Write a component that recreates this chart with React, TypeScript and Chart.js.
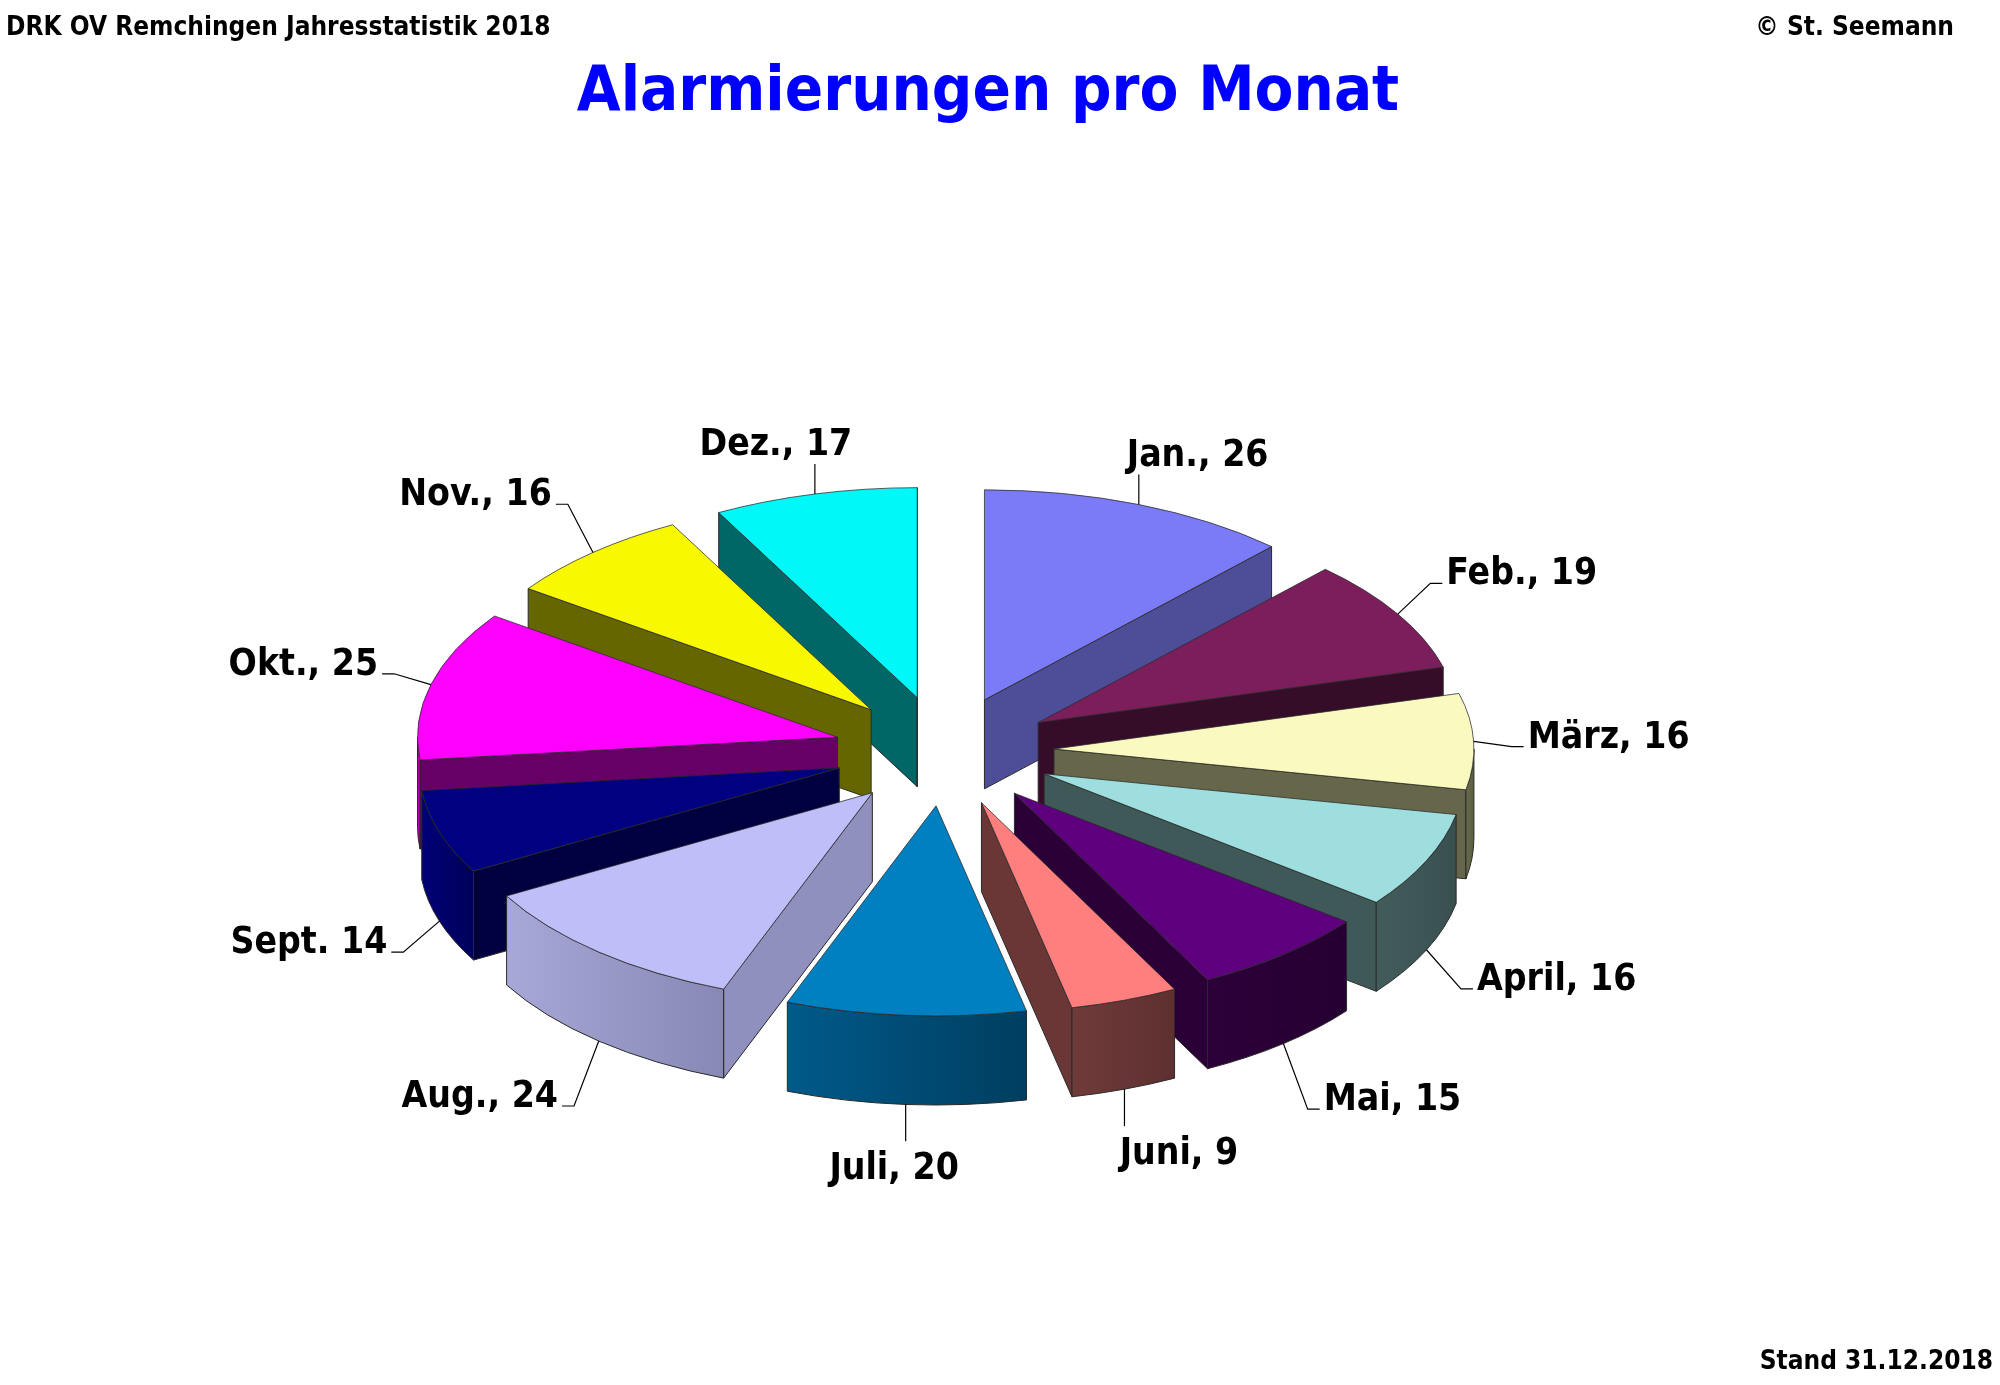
import { useEffect, useRef } from 'react'
import { Chart, registerables } from 'chart.js'

Chart.register(...registerables)

// Alarmierungen 2018, one slice per month
const months = ['Jan.', 'Feb.', 'März', 'April', 'Mai', 'Juni', 'Juli', 'Aug.', 'Sept.', 'Okt.', 'Nov.', 'Dez.']
const alarms = [26, 19, 16, 16, 15, 9, 20, 24, 14, 25, 16, 17]
const separators = [', ', ', ', ', ', ', ', ', ', ', ', ', ', ', ', ' ', ', ', ', ', ', ']

const topColors = ['#7b7bf7', '#7b1e5b', '#fafac0', '#9edede', '#5e007e', '#ff7f7f', '#0080c0', '#bebef8', '#000080', '#ff00ff', '#f8f800', '#00f8f8']
const sideColors = ['#4e4e98', '#360d28', '#66664a', '#3f5858', '#2a0036', '#6b3636', '#004e78', '#9090be', '#000040', '#660066', '#666600', '#006666']
const wallLight = ['#4e4e98', '#360d28', '#6a6a4c', '#425c5c', '#2c003a', '#703a3a', '#005a8a', '#a8a8d8', '#000078', '#c000c0', '#666600', '#006666']
const wallDark = ['#4e4e98', '#360d28', '#5c5c40', '#3a5050', '#260032', '#5e3030', '#003e60', '#8888b6', '#00005a', '#a000a0', '#666600', '#006666']

const EXPLODE = 110
const TILT = 0.5
const DEPTH = 89
const FONT = '"DejaVu Sans Condensed", "DejaVu Sans", sans-serif'

const pie3d = {
  id: 'pie3d',
  beforeDatasetsDraw(chart: any) {
    const ctx = chart.ctx as CanvasRenderingContext2D
    const arcs = chart.getDatasetMeta(0).data as any[]
    const mid = (a: any) => (a.startAngle + a.endAngle) / 2
    const order = arcs.map((_, i) => i).sort((p, q) => Math.sin(mid(arcs[p])) - Math.sin(mid(arcs[q])))

    for (const i of order) {
      const a = arcs[i]
      const s = a.startAngle, e = a.endAngle, R = a.outerRadius
      const m = mid(a)
      const ox = a.x + EXPLODE * Math.cos(m)
      const oy = a.y + TILT * EXPLODE * Math.sin(m)
      const rim = (t: number) => [ox + R * Math.cos(t), oy + TILT * R * Math.sin(t)]

      ctx.save()
      ctx.lineWidth = 1
      ctx.strokeStyle = '#2a2a2a'
      ctx.lineJoin = 'round'

      // radial walls facing the viewer
      const sides: number[] = []
      if (Math.cos(s) < 0) sides.push(s)
      if (Math.cos(e) > 0) sides.push(e)
      for (const t of sides) {
        const [px, py] = rim(t)
        ctx.beginPath()
        ctx.moveTo(ox, oy)
        ctx.lineTo(px, py)
        ctx.lineTo(px, py + DEPTH)
        ctx.lineTo(ox, oy + DEPTH)
        ctx.closePath()
        ctx.fillStyle = sideColors[i]
        ctx.fill()
        ctx.stroke()
      }

      // curved outer wall (front half only)
      const a0 = Math.max(s, 0)
      const a1 = Math.min(e, Math.PI)
      if (a1 > a0) {
        const lx = rim(a1)[0]
        const rx = rim(a0)[0]
        const g = ctx.createLinearGradient(lx, 0, rx, 0)
        g.addColorStop(0, wallLight[i])
        g.addColorStop(1, wallDark[i])
        ctx.beginPath()
        ctx.ellipse(ox, oy, R, TILT * R, 0, a0, a1)
        ctx.ellipse(ox, oy + DEPTH, R, TILT * R, 0, a1, a0, true)
        ctx.closePath()
        ctx.fillStyle = g
        ctx.fill()
        ctx.stroke()
      }

      // top face, drawn by the arc element in tilted space
      ctx.translate(a.x, a.y)
      ctx.scale(1, TILT)
      ctx.translate(-a.x, -a.y)
      ctx.translate(EXPLODE * Math.cos(m), EXPLODE * Math.sin(m))
      a.draw(ctx)
      ctx.restore()
    }
    return false
  },
  afterDraw(chart: any) {
    const ctx = chart.ctx as CanvasRenderingContext2D
    const arcs = chart.getDatasetMeta(0).data as any[]
    ctx.save()
    ctx.fillStyle = '#000'
    ctx.strokeStyle = '#000'
    ctx.lineWidth = 1.2

    arcs.forEach((a, i) => {
      const m = (a.startAngle + a.endAngle) / 2
      const c = Math.cos(m), sn = Math.sin(m)
      const R = a.outerRadius + EXPLODE
      const sx = a.x + R * c
      const sy = a.y + TILT * R * sn + (sn > 0 ? DEPTH : 0)
      const text = months[i] + separators[i] + alarms[i]
      ctx.font = `bold 37px ${FONT}`
      ctx.beginPath()
      if (Math.abs(c) < 0.4) {
        const up = sn < 0
        const ey = up ? sy - 30 : sy + 37
        ctx.moveTo(sx, sy)
        ctx.lineTo(sx, ey)
        ctx.stroke()
        ctx.textAlign = 'center'
        const tx = sx + 160 * c
        if (up) {
          ctx.textBaseline = 'alphabetic'
          ctx.fillText(text, tx, ey - 9)
        } else {
          ctx.textBaseline = 'top'
          ctx.fillText(text, tx, ey + 10)
        }
      } else {
        const side = c > 0 ? 1 : -1
        const ex = sx + 38 * c
        const ey = sy + 75 * sn + 8
        ctx.moveTo(sx, sy)
        ctx.lineTo(ex, ey)
        ctx.lineTo(ex + 12 * side, ey)
        ctx.stroke()
        ctx.textAlign = side > 0 ? 'left' : 'right'
        ctx.textBaseline = 'alphabetic'
        ctx.fillText(text, ex + 16 * side, ey + 1)
      }
    })

    // page texts
    ctx.textBaseline = 'alphabetic'
    ctx.font = `bold 26px ${FONT}`
    ctx.textAlign = 'left'
    ctx.fillText('DRK OV Remchingen Jahresstatistik 2018', 6, 35)
    ctx.textAlign = 'right'
    ctx.fillText('© St. Seemann', 1954, 35)
    ctx.fillText('Stand 31.12.2018', 1993, 1369)
    ctx.font = `bold 63px ${FONT}`
    ctx.textAlign = 'center'
    ctx.fillStyle = '#0000ff'
    ctx.fillText('Alarmierungen pro Monat', 988, 110)
    ctx.restore()
  },
}

export default function App() {
  const canvasRef = useRef<HTMLCanvasElement>(null)

  useEffect(() => {
    if (!canvasRef.current) return
    const chart = new Chart(canvasRef.current, {
      type: 'pie',
      data: {
        labels: months,
        datasets: [{
          data: alarms,
          backgroundColor: topColors,
          borderColor: '#2a2a2a',
          borderWidth: 1,
          radius: 420,
        } as any],
      },
      options: {
        responsive: false,
        animation: false,
        events: [],
        layout: { padding: { left: 0, right: 112, top: 117, bottom: 0 } },
        plugins: { legend: { display: false }, tooltip: { enabled: false } },
      },
      plugins: [pie3d],
    })
    return () => { chart.destroy() }
  }, [])

  return (
    <div style={{ position: 'absolute', left: 0, top: 0, width: 2000, height: 1385, background: '#fff' }}>
      <canvas ref={canvasRef} width={2000} height={1385} style={{ display: 'block' }} />
    </div>
  )
}
